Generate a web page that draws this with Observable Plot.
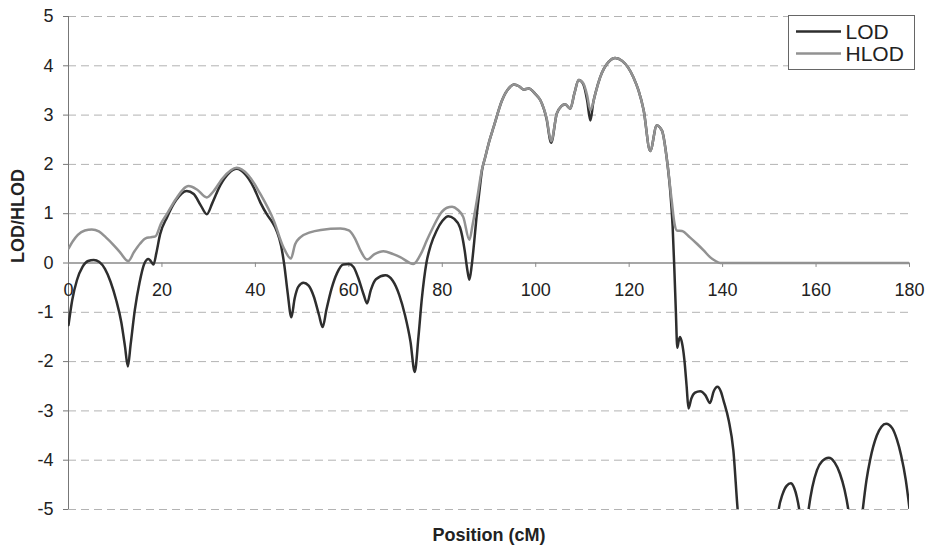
<!DOCTYPE html>
<html>
<head>
<meta charset="utf-8">
<script src="https://cdn.jsdelivr.net/npm/d3@7"></script>
<script src="https://cdn.jsdelivr.net/npm/@observablehq/plot@0.6"></script>
<style>
  html, body { margin: 0; padding: 0; background: #fff; }
  #wrap { position: relative; width: 931px; height: 556px; font-family: "Liberation Sans", Arial, sans-serif; }
  #legend { position: absolute; left: 788px; top: 15px; }
</style>
</head>
<body>
<div id="wrap"></div>
<script>
// LOD score along the chromosome (position in cM)
const lodPos = [0, 0.8, 1.8, 3, 4.2, 5.4, 6.6, 7.8, 9, 10.2, 11.3, 12.1, 12.7, 13.3, 14.2, 15.2, 16.2, 17.1, 17.6, 18.2, 18.8, 19.6, 21.1, 23, 25.3, 26.8, 28.3, 29.6, 30.8, 32.5, 34.3, 36, 37.8, 39.6, 41.1, 42.5, 43.6, 44.6, 45.5, 46.2, 46.9, 47.7, 48.4, 49.2, 50.3, 51.4, 52.5, 53.6, 54.4, 55.2, 56.3, 57.5, 58.8, 60, 61, 62, 63.2, 63.9, 64.7, 65.8, 67.8, 69.4, 70.8, 72, 73.2, 74.1, 74.9, 75.6, 76.6, 77.5, 78.8, 80, 81.3, 82.5, 83.8, 84.8, 85.3, 85.8, 86.3, 86.8, 87.3, 88, 88.5,
  89.2, 90, 91, 92.8, 94.5, 95.3, 96.5, 97.4, 98.5, 100, 101, 102.3, 103.3, 104.5, 105.5, 106.3, 107.4, 108.3, 109.2, 110.2, 111, 111.7, 112.3, 112.8, 113.8, 115.6, 117, 118.5, 120.9, 122, 123.1, 124.5, 125.9, 127, 128.1,
  128.8, 129.3, 129.7, 130, 130.3, 130.6, 130.9, 131.3, 131.8, 132.3, 132.7, 133.3, 134.1, 135.2, 136.3, 137.3, 138.1, 138.9, 139.6, 140.2, 141.3, 142.3, 143.2, 143.8, 144.5, 150.5, 151.4,
  152, 152.8, 153.7, 154.6, 155.3, 155.9, 156.4, 157, 157.8, 158.4, 159.2, 160.2, 161.3, 162.7, 164, 165.1, 166.1, 166.9, 167.8, 169.2, 170, 170.8, 171.6, 173, 174, 175, 176.3, 177.3, 178.2, 179.2, 180];
const lodVal = [-1.26, -0.75, -0.35, -0.08, 0.04, 0.06, 0.02, -0.12, -0.38, -0.75, -1.2, -1.7, -2.1, -1.65, -0.95, -0.4, -0.02, 0.08, 0.04, -0.03, 0.2, 0.58, 0.93, 1.27, 1.46, 1.4, 1.17, 0.99, 1.22, 1.58, 1.82, 1.91, 1.8, 1.54, 1.22, 0.98, 0.83, 0.64, 0.35, -0.05, -0.6, -1.1, -0.72, -0.48, -0.4, -0.46, -0.68, -1.05, -1.3, -0.95, -0.52, -0.2, -0.03, -0.02, -0.08, -0.3, -0.65, -0.82, -0.55, -0.33, -0.25, -0.36, -0.65, -1.05, -1.6, -2.21, -1.5, -0.75, 0, 0.35, 0.66, 0.85, 0.95, 0.9, 0.72, 0.25, -0.1, -0.34, -0.05, 0.4, 0.9, 1.5, 1.88,
  2.15, 2.45, 2.76, 3.3, 3.57, 3.62, 3.58, 3.52, 3.54, 3.42, 3.3, 2.93, 2.44, 3.03, 3.18, 3.22, 3.13, 3.45, 3.71, 3.62, 3.3, 2.89, 3.25, 3.45, 3.77, 4.08, 4.16, 4.1, 3.77, 3.5, 3.1, 2.27, 2.79, 2.69, 2.08,
  1.45, 0.75, -0.2, -1.0, -1.72, -1.58, -1.5, -1.62, -1.95, -2.5, -2.95, -2.75, -2.63, -2.6, -2.68, -2.84, -2.6, -2.51, -2.6, -2.79, -3.19, -3.8, -4.98, -5.6, -6.3, -6.3, -5.5,
  -5.0, -4.7, -4.52, -4.47, -4.56, -4.75, -5.0, -5.5, -5.5, -5.0, -4.55, -4.2, -4.02, -3.95, -4.05, -4.27, -4.6, -5.0, -5.7, -5.7, -5.0, -4.4, -3.98, -3.5, -3.32, -3.26, -3.35, -3.58, -3.9, -4.4, -4.98];

// Heterogeneity LOD (HLOD) along the same positions
const hlodPos = [0, 1, 2, 3.5, 5, 6.5, 8, 9.5, 11, 12.8, 14, 15.3, 16.5, 17.5, 18.6, 19.8, 21.1, 23, 25.7, 27.5, 29.6, 31, 33, 36, 38.5, 41, 43.9, 46, 47.6, 48.5, 49.6, 51.7, 54, 58.2, 60, 61.3, 62.5, 63.9, 65.5, 67.4, 69.5, 71, 73.8, 75.5, 76.7, 78, 79.6, 81, 82.1, 83.3, 84.5, 85.8, 86.5, 87.4, 88.5,
  89.2, 90, 91, 92.8, 94.5, 95.3, 96.5, 97.4, 98.5, 100, 101, 102.3, 103.3, 104.5, 105.5, 106.3, 107.4, 108.3, 109.2, 110.2, 111, 111.7, 112.8, 113.8, 115.6, 117, 118.5, 120.9, 122, 123.1, 124.5, 125.9, 127, 128.1,
  129.1, 129.7, 130.2, 131.3, 133, 134.5, 136, 137.3, 138.5, 139.5, 140, 160, 180];
const hlodVal = [0.29, 0.45, 0.57, 0.66, 0.68, 0.64, 0.52, 0.38, 0.22, 0.04, 0.22, 0.39, 0.5, 0.52, 0.54, 0.8, 1.0, 1.3, 1.56, 1.49, 1.33, 1.45, 1.72, 1.93, 1.78, 1.41, 0.87, 0.32, 0.09, 0.38, 0.52, 0.62, 0.67, 0.7, 0.66, 0.5, 0.25, 0.07, 0.18, 0.24, 0.18, 0.12, -0.02, 0.2, 0.46, 0.72, 1.0, 1.12, 1.14, 1.08, 0.93, 0.47, 0.78, 1.27, 1.9,
  2.15, 2.45, 2.76, 3.3, 3.57, 3.62, 3.58, 3.52, 3.54, 3.42, 3.3, 2.95, 2.47, 3.03, 3.18, 3.22, 3.13, 3.45, 3.71, 3.64, 3.4, 3.1, 3.45, 3.77, 4.08, 4.16, 4.1, 3.77, 3.5, 3.1, 2.27, 2.79, 2.69, 2.08,
  1.27, 0.8, 0.66, 0.65, 0.52, 0.39, 0.25, 0.12, 0.04, 0, 0, 0, 0];

const xTicks = [0, 20, 40, 60, 80, 100, 120, 140, 160, 180];
const yTicks = [-5, -4, -3, -2, -1, 0, 1, 2, 3, 4, 5];
const seriesNames = ["LOD", "HLOD"];
const seriesColors = ["#2e2e2e", "#929292"];

const lod = lodPos.map((p, i) => ({pos: p, val: lodVal[i]}));
const hlod = hlodPos.map((p, i) => ({pos: p, val: hlodVal[i]}));

const chart = Plot.plot({
  width: 931,
  height: 556,
  marginLeft: 68,
  marginRight: 22,
  marginTop: 16,
  marginBottom: 47,
  style: {fontFamily: '"Liberation Sans", Arial, sans-serif', fontSize: "18px", background: "#fff", color: "#222"},
  x: {domain: [0, 180], axis: null, label: null},
  y: {domain: [-5, 5], label: null},
  marks: [
    // dashed horizontal gridlines
    Plot.ruleY(yTicks.filter(d => d !== 0), {x1: 0, x2: 180, stroke: "#b3b3b3", strokeWidth: 1, strokeDasharray: "8,5"}),
    // y axis with ticks pointing left
    Plot.axisY(yTicks, {tickSize: 5, tickPadding: 10, fontSize: 18, stroke: "#777", fill: "#222", tickFormat: d => String(d), label: null}),
    Plot.ruleX([0], {y1: -5, y2: 5, stroke: "#777", strokeWidth: 1}),
    // x axis drawn along the zero line
    Plot.ruleY([0], {x1: 0, x2: 180, stroke: "#8a8a8a", strokeWidth: 1.5}),
    Plot.ruleX(xTicks, {x: d => d, y1: 0, y2: -0.09, stroke: "#8a8a8a", strokeWidth: 1}),
    Plot.text(xTicks, {x: d => d, y: 0, dy: 27, text: d => String(d), fontSize: 18, fill: "#222"}),
    // curves
    Plot.line(lod, {x: "pos", y: "val", stroke: seriesColors[0], strokeWidth: 2.5, curve: "monotone-x", clip: true, strokeLinejoin: "round"}),
    Plot.line(hlod, {x: "pos", y: "val", stroke: seriesColors[1], strokeWidth: 2.5, curve: "monotone-x", clip: true, strokeLinejoin: "round"}),
    // axis titles
    Plot.text(["LOD/HLOD"], {frameAnchor: "left", dx: -50, rotate: -90, text: d => d, fontSize: 18, fontWeight: "bold", fill: "#222"}),
    Plot.text(["Position (cM)"], {frameAnchor: "bottom", dy: 31, text: d => d, fontSize: 18, fontWeight: "bold", fill: "#222"})
  ]
});

const wrap = document.getElementById("wrap");
wrap.appendChild(chart);

// legend box in the upper right corner
const leg = d3.select(wrap).append("svg")
  .attr("id", "legend")
  .attr("width", 128).attr("height", 56);
leg.append("rect").attr("x", 0.5).attr("y", 0.5).attr("width", 126).attr("height", 54)
  .attr("fill", "#fff").attr("stroke", "#666").attr("stroke-width", 1);
seriesNames.forEach((name, i) => {
  const cy = 16.5 + i * 22;
  leg.append("line").attr("x1", 8).attr("x2", 53).attr("y1", cy).attr("y2", cy)
    .attr("stroke", seriesColors[i]).attr("stroke-width", 2.5);
  leg.append("text").attr("x", 57.5).attr("y", cy + 7.5).text(name)
    .attr("font-family", '"Liberation Sans", Arial, sans-serif').attr("font-size", 21).attr("fill", "#222");
});
</script>
</body>
</html>
